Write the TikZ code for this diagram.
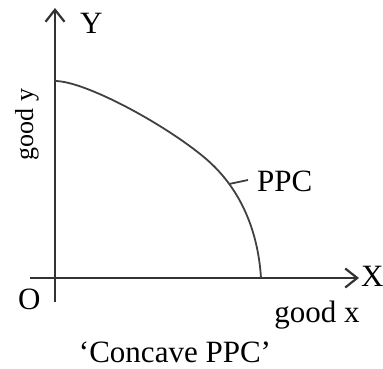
\documentclass[tikz,border=0pt]{standalone}
\usepackage{fontspec}
\setmainfont{Liberation Serif}
\usetikzlibrary{arrows.meta}

\begin{document}
\begin{tikzpicture}[x=1pt, y=-1pt,
    axis/.style={line width=2.2pt, draw=black!80,
                 -{Straight Barb[length=12pt, width=19pt]}},
    curve/.style={line width=1.8pt, draw=black!75},
    lbl/.style={inner sep=0pt, font=\fontsize{31}{36}\selectfont},
    slbl/.style={inner sep=0pt, font=\fontsize{26}{30}\selectfont}
  ]
  \useasboundingbox (0,0) rectangle (383,369);

  % axes
  \coordinate (O)    at (55,278);
  \coordinate (ybot) at (55,302);
  \coordinate (ytop) at (55,8);
  \coordinate (xbeg) at (30,278);
  \coordinate (xend) at (359,278);
  \draw[axis] (ybot) -- (ytop);
  \draw[axis] (xbeg) -- (xend);

  % the curve
  \coordinate (cstart) at (55,81);
  \coordinate (cmid)   at (205,158);
  \coordinate (cend)   at (261,278);
  \draw[curve] (cstart) .. controls (85,81) and (165,124.3) .. (cmid)
                        .. controls (240,187.5) and (258,230) .. (cend);

  % pointer to the label
  \coordinate (tk)    at (229,184);
  \coordinate (tkend) at (248,180);
  \draw[curve] (tk) -- (tkend);

  \node[lbl, anchor=base west] (ylbl) at (80,34)   {Y};
  \node[lbl, anchor=base west] (xlbl) at (361,286) {X};
  \node[lbl, anchor=base west] (olbl) at (18,309)  {O};
  \node[lbl, anchor=base west] (ppc)  at (257,191) {PPC};
  \node[lbl, anchor=base]      (gx)   at (317,322) {good x};
  \node[slbl, rotate=90, anchor=base] (gy) at (33,124.5) {good y};
  \node[lbl, anchor=base]      (cap)  at (175,362) {‘Concave PPC’};

\end{tikzpicture}
\end{document}
